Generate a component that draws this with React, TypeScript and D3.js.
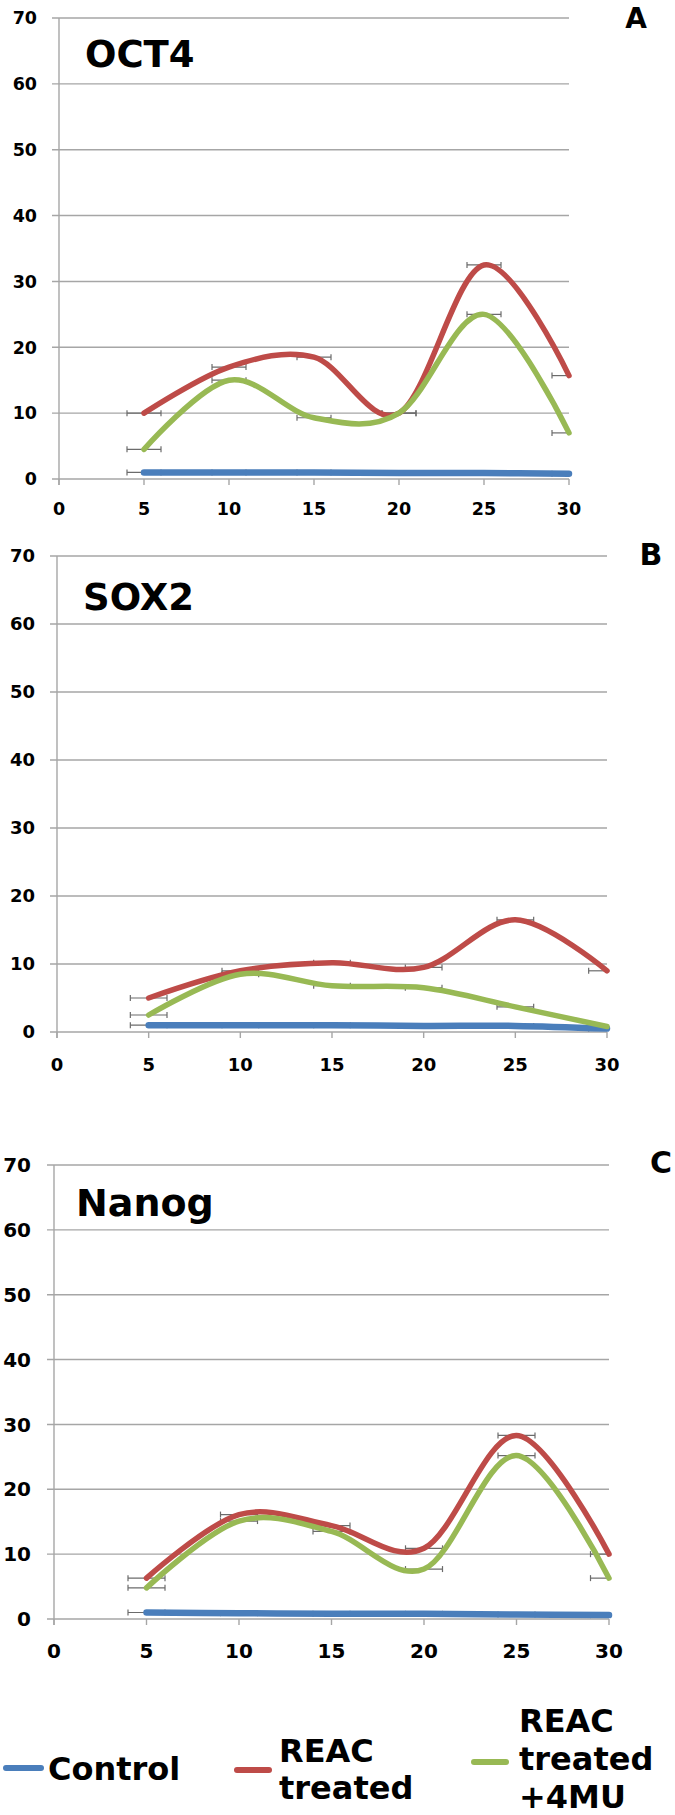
import React from "react";
import * as d3 from "d3";

// ---------- data ----------
const X_TICKS = [0, 5, 10, 15, 20, 25, 30];
const Y_TICKS = [0, 10, 20, 30, 40, 50, 60, 70];
const TIMES = [5, 10, 15, 20, 25, 30];

const SERIES_NAMES = ["Control", "REAC treated", "REAC treated +4MU"];
const LEGEND_LINES = [["Control"], ["REAC", "treated"], ["REAC", "treated", "+4MU"]];

const OCT4_CONTROL = [1.0, 1.0, 1.0, 0.9, 0.9, 0.8];
const OCT4_REAC = [10.0, 17.0, 18.5, 10.0, 32.5, 15.7];
const OCT4_REAC_4MU = [4.5, 15.0, 9.3, 10.0, 25.0, 7.0];

const SOX2_CONTROL = [1.0, 1.0, 1.0, 0.9, 0.9, 0.5];
const SOX2_REAC = [5.0, 9.0, 10.2, 9.5, 16.5, 9.0];
const SOX2_REAC_4MU = [2.5, 8.5, 6.8, 6.5, 3.7, 0.8];

const NANOG_CONTROL = [1.0, 0.9, 0.8, 0.8, 0.7, 0.6];
const NANOG_REAC = [6.3, 16.1, 14.4, 10.9, 28.3, 10.0];
const NANOG_REAC_4MU = [4.8, 15.1, 13.5, 7.7, 25.2, 6.3];

const X_ERROR = 1; // horizontal error bars (± units)

// ---------- styles / layout ----------
const COLORS = ["#4a7ebb", "#be4b48", "#98b954"];
const WIDTHS = [6.5, 5.5, 5.5];
const GRID = "#a6a6a6";
const FONT = "'DejaVu Sans', Verdana, sans-serif";

const PANELS = [
  {
    title: "OCT4", letter: "A", data: [OCT4_CONTROL, OCT4_REAC, OCT4_REAC_4MU],
    left: 59, right: 569, top: 18, bottom: 479,
    tick: 17.5, yLabRight: 37, xLabY: 515,
    titleX: 85, titleY: 67, titleSize: 37,
    letterX: 636, letterY: 28, letterSize: 28,
  },
  {
    title: "SOX2", letter: "B", data: [SOX2_CONTROL, SOX2_REAC, SOX2_REAC_4MU],
    left: 57, right: 607, top: 556, bottom: 1032,
    tick: 18, yLabRight: 35, xLabY: 1071,
    titleX: 83, titleY: 610, titleSize: 37,
    letterX: 651, letterY: 565, letterSize: 30,
  },
  {
    title: "Nanog", letter: "C", data: [NANOG_CONTROL, NANOG_REAC, NANOG_REAC_4MU],
    left: 54, right: 609, top: 1165, bottom: 1619,
    tick: 20, yLabRight: 31, xLabY: 1658,
    titleX: 76, titleY: 1216, titleSize: 38,
    letterX: 661, letterY: 1173, letterSize: 30,
  },
];

function Panel({ p }: { p: (typeof PANELS)[number] }) {
  const x = d3.scaleLinear().domain([0, 30]).range([p.left, p.right]);
  const y = d3.scaleLinear().domain([0, 70]).range([p.bottom, p.top]);
  const line = d3
    .line<number>()
    .x((_, i) => x(TIMES[i]))
    .y((d) => y(d))
    .curve(d3.curveCatmullRom.alpha(0));
  return (
    <g>
      {Y_TICKS.map((t) => (
        <g key={"g" + t}>
          <line x1={p.left - 7} x2={p.right} y1={y(t)} y2={y(t)} stroke={GRID} strokeWidth={1.4} />
          <text
            x={p.yLabRight}
            y={y(t) + p.tick * 0.36}
            textAnchor="end"
            fontFamily={FONT}
            fontWeight="bold"
            fontSize={p.tick}
            fill="#000"
          >
            {t}
          </text>
        </g>
      ))}
      <line x1={p.left} x2={p.left} y1={p.top} y2={p.bottom + 6} stroke={GRID} strokeWidth={1.4} />
      {X_TICKS.map((t) => (
        <g key={"x" + t}>
          <line x1={x(t)} x2={x(t)} y1={p.bottom} y2={p.bottom + 6} stroke={GRID} strokeWidth={1.4} />
          <text
            x={x(t)}
            y={p.xLabY}
            textAnchor="middle"
            fontFamily={FONT}
            fontWeight="bold"
            fontSize={p.tick}
            fill="#000"
          >
            {t}
          </text>
        </g>
      ))}
      {/* error bars */}
      {p.data.map((s, si) =>
        s.map((v, i) => {
          const x0 = x(Math.max(0, TIMES[i] - X_ERROR));
          const x1 = x(Math.min(30, TIMES[i] + X_ERROR));
          const yy = y(v);
          return (
            <g key={"e" + si + "-" + i} stroke="#6b6b6b" strokeWidth={1.2}>
              <line x1={x0} x2={x1} y1={yy} y2={yy} />
              <line x1={x0} x2={x0} y1={yy - 3} y2={yy + 3} />
              {TIMES[i] + X_ERROR <= 30 && <line x1={x1} x2={x1} y1={yy - 3} y2={yy + 3} />}
            </g>
          );
        })
      )}
      {p.data.map((s, si) => (
        <path
          key={"l" + si}
          d={line(s) || ""}
          fill="none"
          stroke={COLORS[si]}
          strokeWidth={WIDTHS[si]}
          strokeLinecap="round"
          strokeLinejoin="round"
        />
      ))}
      <text x={p.titleX} y={p.titleY} fontFamily={FONT} fontWeight="bold" fontSize={p.titleSize} fill="#000">
        {p.title}
      </text>
      <text
        x={p.letterX}
        y={p.letterY}
        textAnchor="middle"
        fontFamily={FONT}
        fontWeight="bold"
        fontSize={p.letterSize}
        fill="#000"
      >
        {p.letter}
      </text>
    </g>
  );
}

const LEGEND_POS = [
  { x1: 6, x2: 41, ly: 1768, tx: 48, ty: [1780] },
  { x1: 237, x2: 269, ly: 1770, tx: 279, ty: [1762, 1799] },
  { x1: 474, x2: 506, ly: 1762, tx: 519, ty: [1732, 1770, 1808] },
];

export default function App() {
  return (
    <svg
      width={675}
      height={1815}
      viewBox="0 0 675 1815"
      style={{ position: "absolute", left: 0, top: 0, background: "#fff" }}
    >
      <rect x={0} y={0} width={675} height={1815} fill="#fff" />
      {PANELS.map((p) => (
        <Panel key={p.letter} p={p} />
      ))}
      {SERIES_NAMES.map((name, i) => {
        const L = LEGEND_POS[i];
        return (
          <g key={name}>
            <line
              x1={L.x1}
              x2={L.x2}
              y1={L.ly}
              y2={L.ly}
              stroke={COLORS[i]}
              strokeWidth={6}
              strokeLinecap="round"
            />
            {LEGEND_LINES[i].map((t, j) => (
              <text
                key={t}
                x={L.tx}
                y={L.ty[j]}
                fontFamily={FONT}
                fontWeight="bold"
                fontSize={32}
                fill="#000"
              >
                {t}
              </text>
            ))}
          </g>
        );
      })}
    </svg>
  );
}
